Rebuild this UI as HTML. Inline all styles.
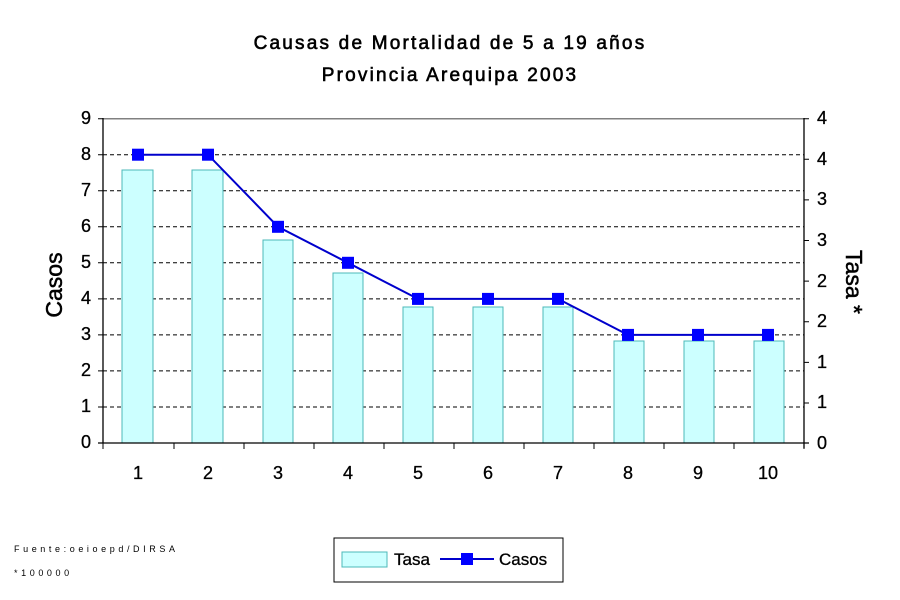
<!DOCTYPE html>
<html><head><meta charset="utf-8"><style>body{margin:0;background:#fff}svg{display:block}</style></head><body>
<svg width="900" height="600" xmlns="http://www.w3.org/2000/svg" font-family="Liberation Sans, sans-serif">
<text x="450" y="49" font-size="19" text-anchor="middle" letter-spacing="2.2" stroke="#000" stroke-width="0.6">Causas de Mortalidad de 5 a 19 años</text>
<text x="450" y="81" font-size="19" text-anchor="middle" letter-spacing="2.2" stroke="#000" stroke-width="0.6">Provincia Arequipa 2003</text>
<g stroke="#000" stroke-dasharray="4,3" stroke-width="1">
<line x1="103" x2="804" y1="154.7" y2="154.7"/><line x1="103" x2="804" y1="190.7" y2="190.7"/>
<line x1="103" x2="804" y1="226.8" y2="226.8"/><line x1="103" x2="804" y1="262.8" y2="262.8"/>
<line x1="103" x2="804" y1="298.9" y2="298.9"/><line x1="103" x2="804" y1="334.9" y2="334.9"/>
<line x1="103" x2="804" y1="370.9" y2="370.9"/><line x1="103" x2="804" y1="407" y2="407"/>
</g>
<line x1="103" x2="804" y1="118.7" y2="118.7" stroke="#808080" stroke-width="1.5"/>
<g fill="#ccffff" stroke="#4db8b8" stroke-width="1">
<rect x="122" y="170" width="31" height="273"/><rect x="192" y="170" width="31" height="273"/>
<rect x="263" y="240" width="30" height="203"/><rect x="333" y="273" width="30" height="170"/>
<rect x="403" y="307" width="30" height="136"/><rect x="473" y="307" width="30" height="136"/>
<rect x="543" y="307" width="30" height="136"/><rect x="614" y="341" width="30" height="102"/>
<rect x="684" y="341" width="30" height="102"/><rect x="754" y="341" width="30" height="102"/>
</g>
<g stroke="#000" stroke-width="1.3">
<line x1="103" x2="103" y1="118" y2="443"/><line x1="804" x2="804" y1="118" y2="448"/>
<line x1="98" x2="809" y1="443" y2="443"/>
</g>
<g stroke="#000">
<path d="M98 118.7h5M98 154.7h5M98 190.7h5M98 226.8h5M98 262.8h5M98 298.9h5M98 334.9h5M98 370.9h5M98 407h5"/>
<path d="M804 118.7h5M804 159.3h5M804 199.9h5M804 240.5h5M804 281.1h5M804 321.8h5M804 362.4h5M804 403h5"/>
<path d="M103 443v6M174 443v6M244 443v6M314 443v6M384 443v6M454 443v6M524 443v6M594 443v6M664 443v6M734 443v6M804 443v6"/>
</g>
<polyline points="138,154.7 208,154.7 278,226.8 348,262.8 418,298.9 488,298.9 558,298.9 628,334.9 698,334.9 768,334.9" fill="none" stroke="#0000cc" stroke-width="2"/>
<g fill="#0000ff">
<rect x="132" y="148.7" width="12" height="12"/><rect x="202" y="148.7" width="12" height="12"/><rect x="272" y="220.8" width="12" height="12"/><rect x="342" y="256.8" width="12" height="12"/><rect x="412" y="292.9" width="12" height="12"/><rect x="482" y="292.9" width="12" height="12"/><rect x="552" y="292.9" width="12" height="12"/><rect x="622" y="328.9" width="12" height="12"/><rect x="692" y="328.9" width="12" height="12"/><rect x="762" y="328.9" width="12" height="12"/>
</g>
<g font-size="18" text-anchor="end" stroke="#000" stroke-width="0.3">
<text x="91" y="124">9</text><text x="91" y="160">8</text><text x="91" y="196">7</text><text x="91" y="232">6</text><text x="91" y="268">5</text><text x="91" y="304">4</text><text x="91" y="340">3</text><text x="91" y="376">2</text><text x="91" y="412">1</text><text x="91" y="448">0</text>
</g>
<g font-size="18" stroke="#000" stroke-width="0.3">
<text x="817" y="124">4</text><text x="817" y="165">4</text><text x="817" y="205">3</text><text x="817" y="246">3</text><text x="817" y="287">2</text><text x="817" y="327">2</text><text x="817" y="368">1</text><text x="817" y="408">1</text><text x="817" y="449">0</text>
</g>
<g font-size="18" text-anchor="middle" stroke="#000" stroke-width="0.3">
<text x="138" y="479">1</text><text x="208" y="479">2</text><text x="278" y="479">3</text><text x="348" y="479">4</text><text x="418" y="479">5</text><text x="488" y="479">6</text><text x="558" y="479">7</text><text x="628" y="479">8</text><text x="698" y="479">9</text><text x="768" y="479">10</text>
</g>
<text transform="translate(62,285) rotate(-90)" font-size="23" text-anchor="middle" stroke="#000" stroke-width="0.5">Casos</text>
<text transform="translate(846,282) rotate(90)" font-size="23" text-anchor="middle" stroke="#000" stroke-width="0.5">Tasa *</text>
<text x="14" y="552" font-size="9" letter-spacing="3.6">Fuente:oeioepd/DIRSA</text>
<text x="14" y="576" font-size="9" letter-spacing="3.6">*100000</text>
<rect x="334" y="538" width="229" height="44" fill="#fff" stroke="#000"/>
<rect x="342" y="552" width="45" height="15" fill="#ccffff" stroke="#4db8b8"/>
<text x="394" y="565" font-size="17" stroke="#000" stroke-width="0.3">Tasa</text>
<line x1="440" x2="494" y1="559" y2="559" stroke="#0000cc" stroke-width="2"/>
<rect x="461" y="553" width="12" height="12" fill="#0000ff"/>
<text x="499" y="565" font-size="17" stroke="#000" stroke-width="0.3">Casos</text>
</svg>
</body></html>
